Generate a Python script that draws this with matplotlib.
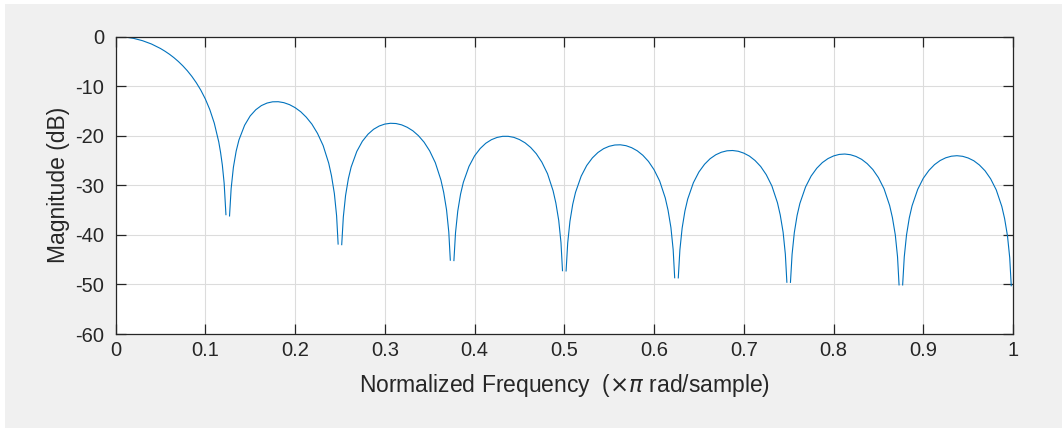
import numpy as np
import matplotlib.pyplot as plt
from matplotlib.patches import Rectangle

plt.rcParams['font.family'] = ['Liberation Sans', 'DejaVu Sans']
plt.rcParams['mathtext.fontset'] = 'dejavusans'
plt.rcParams['axes.unicode_minus'] = False

# magnitude response, one list per lobe (gaps at the nulls)
main_f = [0, 0.01, 0.02, 0.03, 0.04, 0.05, 0.055, 0.06, 0.065, 0.07, 0.075, 0.08, 0.085,
          0.09, 0.095, 0.10, 0.105, 0.11, 0.115, 0.117, 0.119, 0.121, 0.123]
main_db = [0, -0.09, -0.37, -0.84, -1.51, -2.41, -2.96, -3.57, -4.26, -5.04, -5.92, -6.91,
           -8.04, -9.33, -10.82, -12.58, -14.73, -17.47, -21.26, -23.36, -25.95, -29.58, -35.93]

lobe1_f = [0.127, 0.1288, 0.1313, 0.1344, 0.1375, 0.1438, 0.15, 0.1563, 0.1625, 0.1688,
           0.175, 0.1813, 0.1875, 0.1938, 0.2, 0.2063, 0.2125, 0.2188, 0.225, 0.2313,
           0.2375, 0.2406, 0.2438, 0.2463, 0.248]
lobe1_db = [-36.19, -30.66, -26.39, -23.11, -20.86, -17.90, -16.02, -14.76, -13.93, -13.42,
            -13.17, -13.15, -13.34, -13.74, -14.34, -15.17, -16.27, -17.68, -19.53, -21.99,
            -25.54, -28.09, -31.66, -36.16, -41.86]

lobe2_f = [0.252, 0.2538, 0.2563, 0.2594, 0.2625, 0.2688, 0.275, 0.2813, 0.2875, 0.2938,
           0.3, 0.3063, 0.3125, 0.3188, 0.325, 0.3313, 0.3375, 0.3438, 0.35, 0.3563,
           0.3625, 0.3656, 0.3688, 0.3713, 0.373]
lobe2_db = [-41.98, -36.39, -32.05, -28.68, -26.33, -23.18, -21.13, -19.70, -18.71, -18.05,
            -17.66, -17.50, -17.55, -17.82, -18.31, -19.02, -20.00, -21.32, -23.07, -25.45,
            -28.92, -31.42, -34.96, -39.43, -45.11]

lobe3_f = [0.377, 0.3788, 0.3813, 0.3844, 0.3875, 0.3938, 0.4, 0.4063, 0.4125, 0.4188,
           0.425, 0.4313, 0.4375, 0.4438, 0.45, 0.4563, 0.4625, 0.4688, 0.475, 0.4813,
           0.4875, 0.4906, 0.4938, 0.4963, 0.498]
lobe3_db = [-45.19, -39.58, -35.21, -31.80, -29.42, -26.20, -24.08, -22.59, -21.53, -20.81,
            -20.36, -20.13, -20.13, -20.34, -20.78, -21.44, -22.37, -23.64, -25.34, -27.67,
            -31.10, -33.58, -37.10, -41.55, -47.23]

lobe4_f = [0.502, 0.5038, 0.5063, 0.5094, 0.5125, 0.5188, 0.525, 0.5313, 0.5375, 0.5438,
           0.55, 0.5563, 0.5625, 0.5688, 0.575, 0.5813, 0.5875, 0.5938, 0.6, 0.6063,
           0.6125, 0.6156, 0.6188, 0.6213, 0.623]
lobe4_db = [-47.28, -41.65, -37.26, -33.84, -31.44, -28.17, -26.01, -24.48, -23.39, -22.62,
            -22.14, -21.88, -21.84, -22.02, -22.42, -23.05, -23.95, -25.19, -26.86, -29.16,
            -32.56, -35.03, -38.53, -42.98, -48.65]

lobe5_f = [0.627, 0.6288, 0.6313, 0.6344, 0.6375, 0.6438, 0.65, 0.6563, 0.6625, 0.6688,
           0.675, 0.6813, 0.6875, 0.6938, 0.7, 0.7063, 0.7125, 0.7188, 0.725, 0.7313,
           0.7375, 0.7406, 0.7438, 0.7463, 0.748]
lobe5_db = [-48.68, -43.04, -38.65, -35.20, -32.79, -29.50, -27.32, -25.76, -24.64, -23.85,
            -23.34, -23.05, -22.99, -23.14, -23.52, -24.12, -25.00, -26.21, -27.86, -30.14,
            -33.52, -35.98, -39.46, -43.90, -49.56]

lobe6_f = [0.752, 0.7538, 0.7563, 0.7594, 0.7625, 0.7688, 0.775, 0.7813, 0.7875, 0.7938,
           0.8, 0.8063, 0.8125, 0.8188, 0.825, 0.8313, 0.8375, 0.8438, 0.85, 0.8563,
           0.8625, 0.8656, 0.8688, 0.8713, 0.873]
lobe6_db = [-49.58, -43.94, -39.54, -36.08, -33.66, -30.35, -28.15, -26.57, -25.43, -24.62,
            -24.09, -23.78, -23.70, -23.84, -24.19, -24.77, -25.64, -26.83, -28.46, -30.72,
            -34.08, -36.53, -40.00, -44.43, -50.09]

lobe7_f = [0.877, 0.8788, 0.8813, 0.8844, 0.8875, 0.8938, 0.9, 0.9063, 0.9125, 0.9188,
           0.925, 0.9313, 0.9375, 0.9438, 0.95, 0.9563, 0.9625, 0.9688, 0.975, 0.9813,
           0.9875, 0.9906, 0.9938, 0.9963, 0.998]
lobe7_db = [-50.10, -44.45, -40.04, -36.58, -34.14, -30.82, -28.59, -27.00, -25.84, -25.01,
            -24.46, -24.14, -24.04, -24.16, -24.50, -25.06, -25.91, -27.08, -28.69, -30.94,
            -34.28, -36.72, -40.19, -44.61, -50.26]

xticks = [0, 0.1, 0.2, 0.3, 0.4, 0.5, 0.6, 0.7, 0.8, 0.9, 1]
xticklabels = ['0', '0.1', '0.2', '0.3', '0.4', '0.5', '0.6', '0.7', '0.8', '0.9', '1']
yticks = [-60, -50, -40, -30, -20, -10, 0]

fig = plt.figure(figsize=(10.63, 4.29), dpi=100, facecolor='white')
fig.patches.append(Rectangle((5 / 1063, 1 / 429), 1057 / 1063, 424 / 429,
                             transform=fig.transFigure, facecolor='#f0f0f0',
                             edgecolor='none', zorder=-10))

ax = fig.add_axes([0.1087, 0.2214, 0.8443, 0.6935])
ax.set_facecolor('white')

segments = [(main_f, main_db), (lobe1_f, lobe1_db), (lobe2_f, lobe2_db), (lobe3_f, lobe3_db),
            (lobe4_f, lobe4_db), (lobe5_f, lobe5_db), (lobe6_f, lobe6_db), (lobe7_f, lobe7_db)]
for f, db in segments:
    ax.plot(f, db, color='#0072BD', lw=0.8)

ax.set_xlim(0, 1)
ax.set_ylim(-60, 0)
ax.set_xticks(xticks)
ax.set_xticklabels(xticklabels)
ax.set_yticks(yticks)
ax.grid(True, color='#dcdcdc', lw=0.8)
ax.set_axisbelow(True)
ax.tick_params(direction='in', length=7, width=0.9, color='#262626',
               top=True, right=True, labelsize=14.5, labelcolor='#262626')
ax.tick_params(axis='y', pad=8)
ax.tick_params(axis='x', pad=5)
for s in ax.spines.values():
    s.set_color('#262626')
    s.set_linewidth(0.9)

ax.set_xlabel(r'Normalized Frequency  ($\times\pi$ rad/sample)', fontsize=16.5,
              color='#262626', labelpad=9)
ax.set_ylabel('Magnitude (dB)', fontsize=16.5, color='#262626', labelpad=4)

fig.savefig('out.png', dpi=100, facecolor=fig.get_facecolor())
